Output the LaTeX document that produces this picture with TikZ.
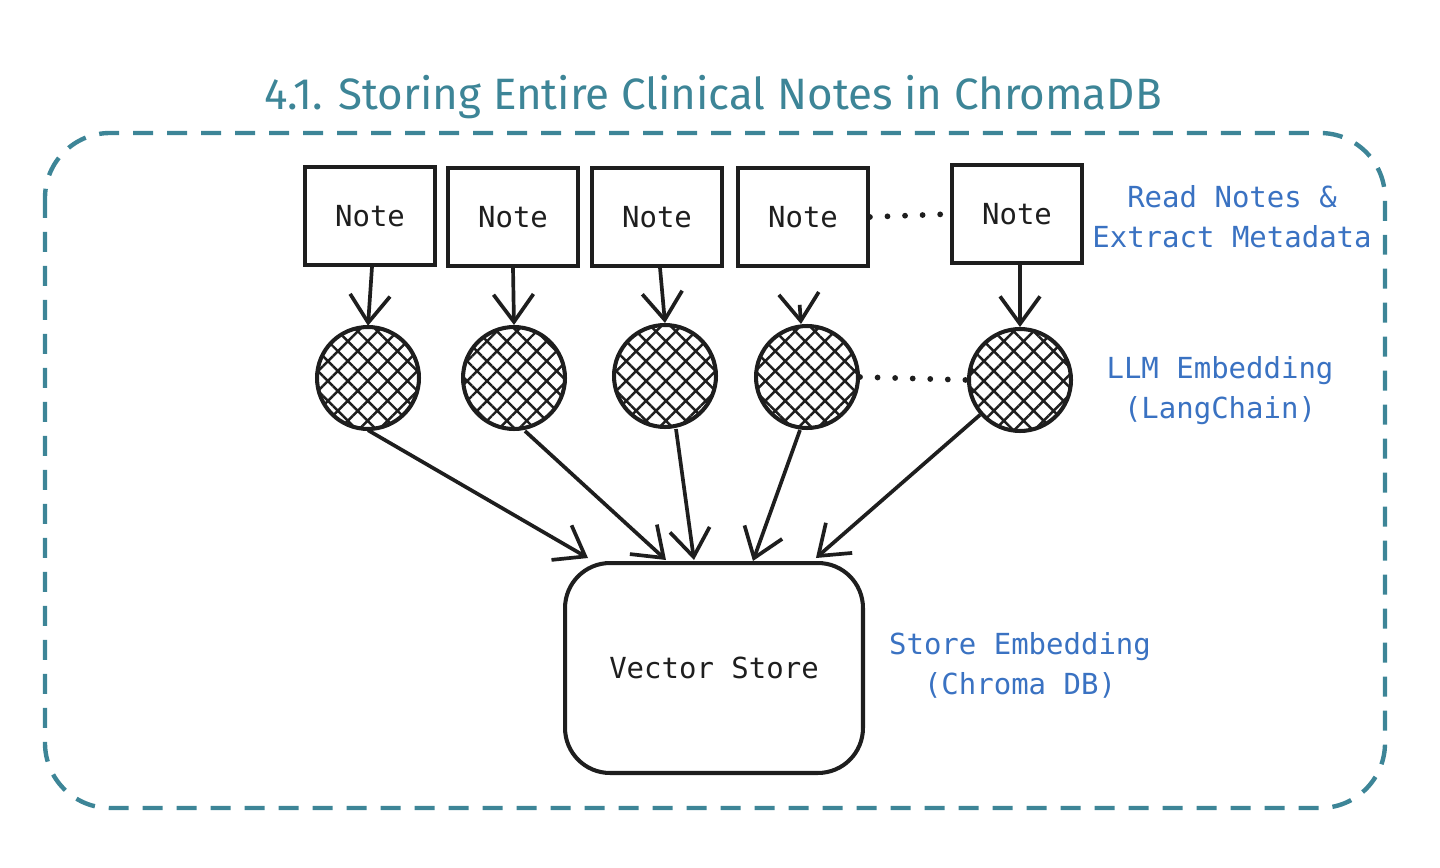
\documentclass[tikz,border=0pt]{standalone}
\usepackage{fontspec}
\setmonofont{DejaVu Sans Mono}
\newfontfamily\titlefont{Fira Sans}
\usetikzlibrary{arrows.meta,patterns.meta,positioning}
\definecolor{frameteal}{HTML}{3D8597}
\definecolor{labelblue}{HTML}{3A72C2}
\definecolor{inkblack}{HTML}{1E1E1E}
\tikzset{
  notebox/.style={draw=inkblack,line width=2.2pt,minimum width=2.6cm,minimum height=1.96cm,inner sep=0pt,font=\ttfamily\fontsize{16.5}{19}\selectfont,text=inkblack},
  embed/.style={circle,draw=inkblack,line width=2.3pt,minimum size=2.04cm,inner sep=0pt,pattern={Hatch[angle=45,distance=8pt,line width=1.4pt]},pattern color=inkblack},
  flow/.style={draw=inkblack,line width=2.1pt,-{Straight Barb[length=0.55cm,width=0.8cm,line width=2.1pt]}},
  dots/.style={draw=inkblack,line width=3.3pt,dash pattern=on 0pt off 10pt,line cap=round},
  steplabel/.style={text=labelblue,align=center,font=\ttfamily\fontsize{16.5}{22.7}\selectfont}
}
\begin{document}
\begin{tikzpicture}[x=0.02cm,y=-0.02cm]
    \useasboundingbox (0,0) rectangle (1440,868);

    % dashed frame and title
    \draw[frameteal,line width=2.5pt,dash pattern=on 0.4cm off 0.28cm,rounded corners=1.3cm] (45,133) rectangle (1385,808);
    \node[text=frameteal,font=\titlefont\fontsize{25}{30}\selectfont] (title) at (713,97) {4.1. Storing Entire Clinical Notes in ChromaDB};

    % the notes
    \node[notebox] (n1) at (370,216) {Note};
    \node[notebox] (n2) at (513,217) {Note};
    \node[notebox] (n3) at (657,217) {Note};
    \node[notebox] (n4) at (803,217) {Note};
    \node[notebox] (n5) at (1017,214) {Note};

    % the embeddings
    \node[embed] (e1) at (368,378) {};
    \node[embed] (e2) at (514,378) {};
    \node[embed] (e3) at (665,376) {};
    \node[embed] (e4) at (807,377) {};
    \node[embed] (e5) at (1020,380) {};

    % the store
    \node[draw=inkblack,line width=2.3pt,rounded corners=0.9cm,minimum width=5.96cm,minimum height=4.2cm,font=\ttfamily\fontsize{16.5}{19}\selectfont,text=inkblack] (vs) at (714,668) {Vector Store};

    % dotted gaps
    \draw[dots] (n4.east) -- (n5.west);
    \draw[dots] (e4.east) -- (e5.west);

    % note to embedding
    \draw[flow] ([xshift=0.04cm]n1.south) -- (e1.north);
    \draw[flow] (n2.south) -- (e2.north);
    \draw[flow] ([xshift=0.06cm]n3.south) -- (e3.north);
    \draw[flow,shorten <=0.74cm] ([xshift=-0.12cm]n4.south) -- ([xshift=-0.12cm]e4.north);
    \draw[flow] ([xshift=0.06cm]n5.south) -- (e5.north);

    % embedding to store
    \draw[flow] (e1.south) -- ([xshift=0.5cm,yshift=0.06cm]vs.north west);
    \draw[flow] ([xshift=0.22cm]e2.south) -- ([xshift=2.06cm,yshift=0.02cm]vs.north west);
    \draw[flow] ([xshift=0.22cm]e3.south) -- ([xshift=2.62cm,yshift=0.02cm]vs.north west);
    \draw[flow] ([xshift=-0.14cm]e4.south) -- ([xshift=3.8cm]vs.north west);
    \draw[flow] (e5) -- ([xshift=5.06cm,yshift=0.06cm]vs.north west);

    % label the steps
    \node[steplabel] (lread) at (1232,217) {Read Notes \&\\Extract Metadata};
    \node[steplabel] (lembed) at (1220,391) {LLM Embedding\\(LangChain)};
    \node[steplabel] (lstore) at (1020,665) {Store Embedding\\(Chroma DB)};
\end{tikzpicture}
\end{document}
